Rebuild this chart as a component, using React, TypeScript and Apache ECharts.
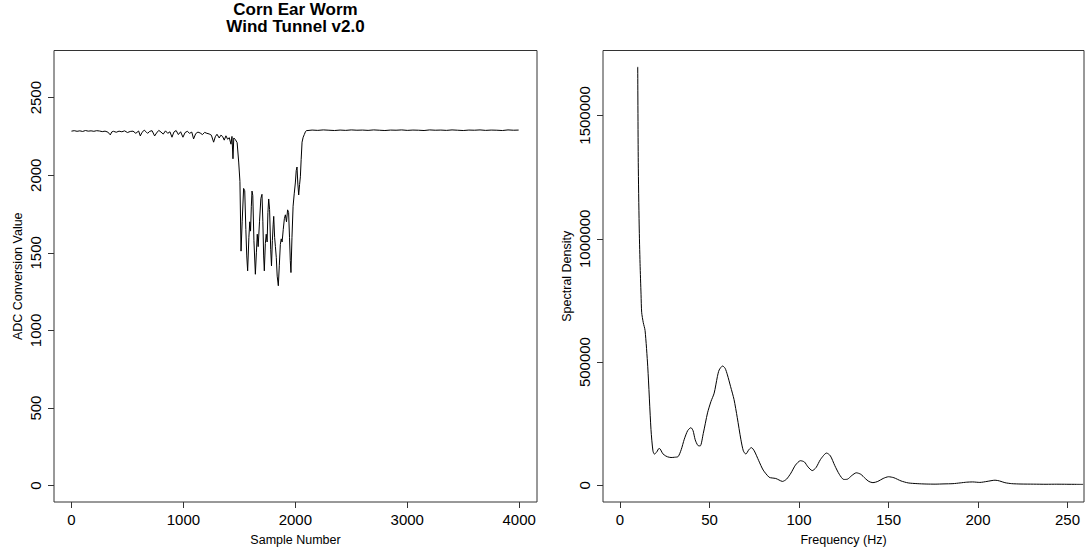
import React, { useEffect, useRef } from "react";
import * as echarts from "echarts";

// ---------- data ----------
const sampleNumber = [
  0, 25, 50, 75, 100, 125, 150, 175, 200, 225, 250, 275, 300, 325, 347, 360, 375, 400, 425, 450,
  475, 500, 525, 550, 575, 600, 615, 630, 650, 665, 680, 700, 720, 743, 760, 780, 800, 820, 840, 860,
  880, 898, 915, 935, 955, 975, 996, 1015, 1035, 1055, 1075, 1091, 1110, 1130, 1150, 1170, 1190, 1210, 1230, 1250,
  1270, 1285, 1300, 1320, 1335, 1350, 1365, 1380, 1395, 1410, 1425, 1434, 1443, 1450, 1464, 1480, 1494, 1505, 1515, 1525,
  1538, 1548, 1558, 1566, 1574, 1585, 1593, 1600, 1607, 1613, 1620, 1630, 1643, 1652, 1660, 1668, 1680, 1692, 1702, 1710,
  1717, 1723, 1732, 1740, 1748, 1755, 1762, 1770, 1780, 1787, 1795, 1802, 1807, 1815, 1822, 1830, 1838, 1848, 1857, 1866,
  1874, 1882, 1892, 1902, 1911, 1921, 1931, 1940, 1948, 1955, 1961, 1970, 1980, 1990, 2000, 2008, 2015, 2022, 2030, 2038,
  2045, 2052, 2060, 2070, 2080, 2090, 2098, 2150, 2200, 2250, 2300, 2350, 2400, 2450, 2500, 2550, 2600, 2650, 2700, 2750,
  2800, 2850, 2900, 2950, 3000, 3050, 3100, 3150, 3200, 3250, 3300, 3350, 3400, 3450, 3500, 3550, 3600, 3650, 3700, 3750,
  3800, 3850, 3900, 3950, 3995,
];
const adcValue = [
  2284, 2287, 2283, 2286, 2282, 2288, 2284, 2286, 2283, 2287, 2285, 2281, 2284, 2278, 2260, 2279, 2283, 2277, 2284, 2280,
  2286, 2275, 2282, 2284, 2270, 2285, 2253, 2276, 2290, 2281, 2270, 2283, 2287, 2253, 2272, 2289, 2278, 2265, 2286, 2270,
  2280, 2245, 2278, 2288, 2262, 2280, 2245, 2275, 2283, 2270, 2278, 2234, 2268, 2278, 2272, 2262, 2276, 2270, 2266, 2258,
  2213, 2248, 2264, 2240, 2258, 2250, 2226, 2254, 2232, 2242, 2200, 2250, 2106, 2240, 2230, 2210, 2085, 1960, 1511, 1700,
  1915, 1900, 1650, 1480, 1384, 1600, 1700, 1640, 1800, 1898, 1870, 1580, 1362, 1500, 1620, 1540, 1700, 1850, 1877, 1700,
  1480, 1384, 1560, 1620, 1570, 1760, 1847, 1780, 1520, 1416, 1580, 1680, 1735, 1600, 1540, 1469, 1350, 1288, 1420, 1554,
  1590, 1570, 1650, 1720, 1745, 1700, 1777, 1760, 1600, 1450, 1373, 1600, 1800, 1880, 1950, 2030, 2053, 1950, 1873, 1940,
  1990, 2100, 2213, 2245, 2262, 2280, 2287, 2291, 2289, 2292, 2290, 2288, 2291, 2289, 2292, 2290, 2291, 2289, 2292, 2290,
  2288, 2291, 2290, 2292, 2289, 2291, 2290, 2288, 2292, 2290, 2291, 2289, 2292, 2290, 2288, 2291, 2290, 2292, 2289, 2291,
  2290, 2288, 2292, 2290, 2291,
];

const frequencyHz = [
  9.9, 10.2, 10.7, 11.2, 11.75, 12.1, 13, 14, 15.5, 17.3, 18.4, 19.2, 20.5, 21.8, 22.5, 23.6, 24.7, 26.5, 28.5, 30.5,
  32.5, 34.2, 35.9, 37.8, 39.6, 40.8, 42, 43.5, 44.8, 46.5, 48.9, 50.8, 52.6, 54.4, 55.4, 57.3, 58.7, 60, 61.8, 63.7,
  65.5, 67.5, 68.9, 70.3, 72, 73.4, 75, 77.5, 80, 83.3, 85, 87, 88.8, 90.7, 93, 95.5, 98, 100.8, 103, 105,
  107.4, 109.5, 112, 115.4, 117.5, 120, 122.5, 125, 127, 129.5, 132, 134.5, 137, 139, 141.3, 144, 147, 150, 153, 157,
  161, 166, 171, 176, 181, 186, 190, 193.7, 197, 201, 205, 209.5, 212, 215, 218.8, 224, 231, 238, 244, 249.6,
  255, 258.7,
];
const spectralDensity = [
  1697000, 1310000, 1056000, 900000, 775000, 702000, 660000, 628000, 481000, 227000, 140000, 127000, 135000, 150000, 147000, 132000, 123000, 116000, 113000, 114000,
  117000, 145000, 187000, 222000, 234000, 222000, 185000, 162000, 160000, 210000, 294000, 340000, 374000, 441000, 468000, 484000, 475000, 448000, 400000, 348000,
  275000, 187000, 140000, 127000, 145000, 153000, 140000, 100000, 62000, 33000, 30000, 28000, 22000, 16000, 25000, 50000, 82000, 100000, 95000, 75000,
  60000, 72000, 105000, 131000, 120000, 80000, 45000, 24000, 25000, 40000, 51000, 45000, 28000, 16000, 11000, 16000, 28000, 35000, 31000, 18000,
  10000, 7000, 5500, 5000, 6000, 7000, 10000, 13000, 14000, 12000, 16000, 21000, 18000, 11000, 7000, 5500, 5000, 4500, 4800, 4500,
  4200, 4000,
];

const leftXTicks = [0, 1000, 2000, 3000, 4000];
const leftYTicks = [0, 500, 1000, 1500, 2000, 2500];
const rightXTicks = [0, 50, 100, 150, 200, 250];
const rightYTicks = [0, 500000, 1000000, 1500000];
const titleLines = ["Corn Ear Worm", "Wind Tunnel v2.0"];

const FONT = '"Liberation Sans", Arial, Helvetica, sans-serif';

function valueAxis(
  gridIndex: number,
  min: number,
  max: number,
  ticks: number[],
  name: string,
  isY: boolean
) {
  return {
    type: "value",
    gridIndex,
    min,
    max,
    name,
    nameLocation: "middle",
    nameGap: isY ? 30 : 31,
    nameTextStyle: { fontFamily: FONT, fontSize: 12.5, color: "#000" },
    axisLine: { show: false, onZero: false },
    axisTick: {
      show: true,
      inside: false,
      length: 6,
      customValues: ticks,
      lineStyle: { color: "#333", width: 1 },
    },
    axisLabel: {
      show: true,
      customValues: ticks,
      margin: isY ? 11.5 : 10,
      fontFamily: FONT,
      fontSize: 15,
      color: "#000",
      rotate: isY ? 90 : 0,
      formatter: (v: number) => String(v),
    },
    splitLine: { show: false },
  };
}

export default function App() {
  const ref = useRef<HTMLDivElement>(null);

  useEffect(() => {
    document.body.style.margin = "0";
    const chart = echarts.init(ref.current as HTMLDivElement, null, { renderer: "svg" });

    const leftData = sampleNumber.map((s, i) => [s, adcValue[i]]);
    const rightData = frequencyHz.map((f, i) => [f, spectralDensity[i]]);

    chart.setOption({
      animation: false,
      backgroundColor: "#fff",
      grid: [
        { left: 54, top: 50.5, width: 483, height: 456.3, show: true, borderColor: "#333", borderWidth: 1, backgroundColor: "transparent" },
        { left: 603, top: 50.5, width: 481, height: 456.3, show: true, borderColor: "#333", borderWidth: 1, backgroundColor: "transparent" },
      ],
      xAxis: [
        valueAxis(0, -156, 4159, leftXTicks, "Sample Number", false),
        valueAxis(1, -9.5, 259.2, rightXTicks, "Frequency (Hz)", false),
      ],
      yAxis: [
        valueAxis(0, -105.2, 2803.6, leftYTicks, "ADC Conversion Value", true),
        valueAxis(1, -67400, 1763400, rightYTicks, "Spectral Density", true),
      ],
      graphic: titleLines.map((t, i) => ({
        type: "text",
        x: 295.5,
        y: 9 + i * 17,
        style: {
          text: t,
          fill: "#000",
          font: `bold 17px ${FONT}`,
          textAlign: "center",
          textVerticalAlign: "middle",
        },
      })),
      series: [
        {
          type: "line",
          xAxisIndex: 0,
          yAxisIndex: 0,
          data: leftData,
          showSymbol: false,
          symbol: "none",
          lineStyle: { color: "#000", width: 1 },
          clip: true,
        },
        {
          type: "line",
          xAxisIndex: 1,
          yAxisIndex: 1,
          data: rightData,
          showSymbol: false,
          symbol: "none",
          smooth: 0.25,
          lineStyle: { color: "#000", width: 1 },
          clip: true,
        },
      ],
    });

    return () => chart.dispose();
  }, []);

  return <div ref={ref} style={{ width: 1088, height: 551 }} />;
}
